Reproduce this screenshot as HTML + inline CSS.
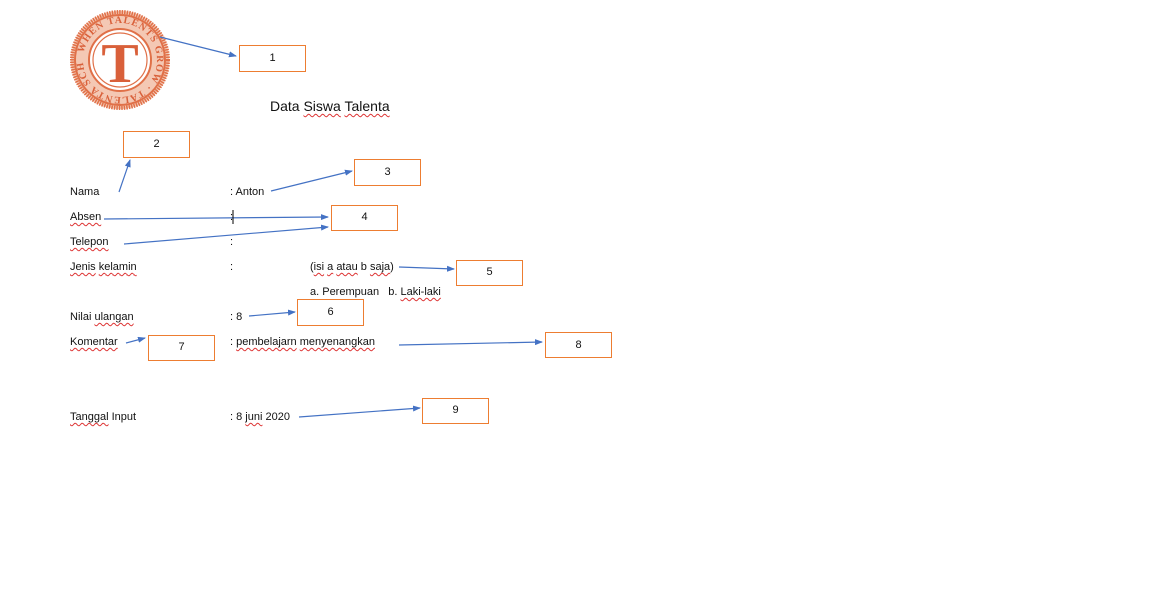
<!DOCTYPE html>
<html><head><meta charset="utf-8"><style>
body{margin:0;width:1156px;height:604px;background:#fff;position:relative;overflow:hidden;font-family:"Liberation Sans",sans-serif;color:#111}
.t{position:absolute;font-size:11px;white-space:nowrap;line-height:14px}
.w{text-decoration:underline wavy #d33;text-decoration-thickness:1px;text-underline-offset:2px}
.b{position:absolute;border:1.3px solid #ed7d31;box-sizing:border-box;font-size:11px;text-align:center;background:#fff}
svg{position:absolute;left:0;top:0}
</style></head><body>
<svg width="1156" height="604">
<defs><marker id="a" markerWidth="8" markerHeight="6" refX="7" refY="3" orient="auto" markerUnits="userSpaceOnUse"><path d="M0,0L8,3L0,6z" fill="#4472c4"/></marker>
<path id="tp" d="M120,60 m-37,0 a37,37 0 1,1 74,0 a37,37 0 1,1 -74,0"/></defs>
<circle cx="120" cy="60" r="49" fill="#f4c8b4"/>
<circle cx="120" cy="60" r="31" fill="#fff"/>
<g fill="none" stroke="#e07048">
<circle cx="120" cy="60" r="48" stroke-width="4" stroke-dasharray="1.5 1"/>
<circle cx="120" cy="60" r="45" stroke-width="2"/>
<circle cx="120" cy="60" r="31" stroke-width="2"/>
<circle cx="120" cy="60" r="27" stroke-width="1.2"/>
</g>
<text font-family="Liberation Serif" font-size="10" fill="#d9603a" font-weight="bold" letter-spacing="1"><textPath href="#tp" startOffset="3%">WHEN TALENTS GROW · TALENTA SCHOOL ·</textPath></text>
<text x="120" y="82" text-anchor="middle" font-family="Liberation Serif" font-size="56" font-weight="bold" fill="#d9603a">T</text>
<g stroke="#4472c4" stroke-width="1.2" marker-end="url(#a)">
<line x1="160" y1="37" x2="236" y2="56"/>
<line x1="119" y1="192" x2="130" y2="160"/>
<line x1="271" y1="191" x2="352" y2="171"/>
<line x1="104" y1="219" x2="328" y2="217"/>
<line x1="124" y1="244" x2="328" y2="227"/>
<line x1="399" y1="267" x2="454" y2="269"/>
<line x1="249" y1="316" x2="295" y2="312"/>
<line x1="126" y1="343" x2="145" y2="338"/>
<line x1="399" y1="345" x2="542" y2="342"/>
<line x1="299" y1="417" x2="420" y2="408"/>
</g>
<line x1="233" y1="210" x2="233" y2="224" stroke="#000" stroke-width="1"/>
</svg>
<div class="t" style="left:270px;top:97px;font-size:14px;line-height:18px">Data <span class="w">Siswa</span> <span class="w">Talenta</span></div>
<div class="t" style="left:70px;top:185px">Nama</div>
<div class="t" style="left:230px;top:185px">: Anton</div>
<div class="t" style="left:70px;top:210px"><span class="w">Absen</span></div>
<div class="t" style="left:230px;top:210px">:</div>
<div class="t" style="left:70px;top:235px"><span class="w">Telepon</span></div>
<div class="t" style="left:230px;top:235px">:</div>
<div class="t" style="left:70px;top:260px"><span class="w">Jenis</span> <span class="w">kelamin</span></div>
<div class="t" style="left:230px;top:260px">:</div>
<div class="t" style="left:310px;top:260px">(<span class="w">isi</span> <span class="w">a</span> <span class="w">atau</span> b <span class="w">saja</span>)</div>
<div class="t" style="left:310px;top:285px">a. Perempuan &nbsp;&nbsp;b. <span class="w">Laki-laki</span></div>
<div class="t" style="left:70px;top:310px">Nilai <span class="w">ulangan</span></div>
<div class="t" style="left:230px;top:310px">: 8</div>
<div class="t" style="left:70px;top:335px"><span class="w">Komentar</span></div>
<div class="t" style="left:230px;top:335px">: <span class="w">pembelajarn</span> <span class="w">menyenangkan</span></div>
<div class="t" style="left:70px;top:410px"><span class="w">Tanggal</span> Input</div>
<div class="t" style="left:230px;top:410px">: 8 <span class="w">juni</span> 2020</div>
<div class="b" style="left:239px;top:45px;width:67px;height:27px;line-height:24px">1</div>
<div class="b" style="left:123px;top:131px;width:67px;height:27px;line-height:24px">2</div>
<div class="b" style="left:354px;top:159px;width:67px;height:27px;line-height:24px">3</div>
<div class="b" style="left:331px;top:205px;width:67px;height:26px;line-height:22px">4</div>
<div class="b" style="left:456px;top:260px;width:67px;height:26px;line-height:22px">5</div>
<div class="b" style="left:297px;top:299px;width:67px;height:27px;line-height:24px">6</div>
<div class="b" style="left:148px;top:335px;width:67px;height:26px;line-height:22px">7</div>
<div class="b" style="left:545px;top:332px;width:67px;height:26px;line-height:24px">8</div>
<div class="b" style="left:422px;top:398px;width:67px;height:26px;line-height:22px">9</div>
</body></html>
